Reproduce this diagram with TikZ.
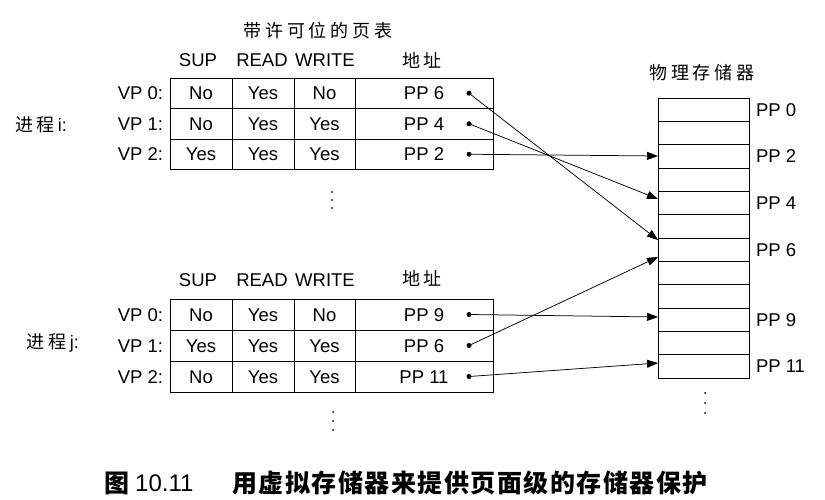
\documentclass[tikz,border=0pt]{standalone}
\usepackage{fontspec}
\setmainfont{Liberation Sans}
\newfontfamily\cjk[LetterSpace=22]{Noto Sans CJK SC}
\newfontfamily\cjkcap[LetterSpace=6]{Noto Sans CJK SC}
\usetikzlibrary{arrows.meta}
\begin{document}
\begin{tikzpicture}[x=1pt,y=-1pt,
  lab/.style={font=\fontsize{18.5}{20}\selectfont, inner sep=0pt, outer sep=0pt, text height=13pt, text depth=0pt},
  zh/.style={font=\fontsize{18}{20}\selectfont\cjk, inner sep=0pt, outer sep=0pt},
  cell/.style={lab, draw, line width=0.9pt, anchor=north west},
  memrow/.style={draw, line width=0.9pt, anchor=north west, inner sep=0pt, outer sep=0pt, minimum width=91pt, minimum height=23.333pt},
  pdot/.style={circle, fill, inner sep=0pt, minimum size=5pt},
  edot/.style={circle, fill, inner sep=0pt, minimum size=2pt},
  link/.style={line width=0.75pt, -{Triangle[length=11pt,width=8pt]}}]
\useasboundingbox (0,0) rectangle (825,500);

% ---------- titles ----------
\node[zh] (title) at (318,31) {带许可位的页表};
\node[zh] (memtitle) at (702,73) {物理存储器};

% ---------- process i ----------
\node[zh, anchor=west] (pi) at (15,125) {进程\,{\fontspec{Liberation Sans}i:}};
\node[lab] (hi1) at (198,60) {SUP};
\node[lab] (hi2) at (262,60) {READ};
\node[lab] (hi3) at (325,60) {WRITE};
\node[zh] (hi4) at (422,60) {地址};
\foreach \r/\y/\a/\b/\c/\d in {0/78/No/Yes/No/PP 6, 1/108.5/No/Yes/Yes/PP 4, 2/139/Yes/Yes/Yes/PP 2} {
  \node[cell, minimum width=62pt, minimum height=30.5pt] (ia\r) at (170,\y) {\a};
  \node[cell, minimum width=62pt, minimum height=30.5pt] (ib\r) at (232,\y) {\b};
  \node[cell, minimum width=61pt, minimum height=30.5pt] (ic\r) at (294,\y) {\c};
  \node[cell, minimum width=138pt, minimum height=30.5pt] (id\r) at (355,\y) {\d};
  \node[lab, anchor=east] (iv\r) at (163,\y+15.25) {VP \r:};
  \node[pdot] (ip\r) at (469,\y+15.25) {};
}
\node[edot] (ie1) at (332,192) {};
\node[edot] (ie2) at (332,200) {};
\node[edot] (ie3) at (332,208) {};

% ---------- process j ----------
\node[zh, anchor=west] (pj) at (27,343) {进程\,{\fontspec{Liberation Sans}j:}};
\node[lab] (hj1) at (198,280) {SUP};
\node[lab] (hj2) at (262,280) {READ};
\node[lab] (hj3) at (325,280) {WRITE};
\node[zh] (hj4) at (422,278) {地址};
\foreach \r/\y/\a/\b/\c/\d in {0/299/No/Yes/No/PP 9, 1/330/Yes/Yes/Yes/PP 6, 2/361/No/Yes/Yes/PP 11} {
  \node[cell, minimum width=62pt, minimum height=31pt] (ja\r) at (170,\y) {\a};
  \node[cell, minimum width=62pt, minimum height=31pt] (jb\r) at (232,\y) {\b};
  \node[cell, minimum width=61pt, minimum height=31pt] (jc\r) at (294,\y) {\c};
  \node[cell, minimum width=138pt, minimum height=31pt] (jd\r) at (355,\y) {\d};
  \node[lab, anchor=east] (jv\r) at (163,\y+15.5) {VP \r:};
  \node[pdot] (jp\r) at (469,\y+15.5) {};
}
\node[edot] (je1) at (333,412) {};
\node[edot] (je2) at (333,421) {};
\node[edot] (je3) at (333,430) {};

% ---------- physical memory ----------
\foreach \k in {0,...,11} {
  \node[memrow] (m\k) at (658,98+\k*23.333) {};
}
\foreach \k in {0,2,4,6,9,11} {
  \node[lab, anchor=west, xshift=7pt] (ml\k) at (m\k.east) {PP \k};
}
\node[edot] (me1) at (705,393) {};
\node[edot] (me2) at (705,403) {};
\node[edot] (me3) at (705,413) {};

% ---------- arrow targets ----------
\coordinate (t2) at (658,156);
\coordinate (t4) at (658,199);
\coordinate (t6a) at (658,240);
\coordinate (t6b) at (658,257);
\coordinate (t9) at (658,317);
\coordinate (t11) at (658,363);

\draw[link] (ip0.center) -- (t6a);
\draw[link] (ip1.center) -- (t4);
\draw[link] (ip2.center) -- (t2);
\draw[link] (jp0.center) -- (t9);
\draw[link] (jp1.center) -- (t6b);
\draw[link] (jp2.center) -- (t11);

% ---------- caption ----------
\node[inner sep=0pt, anchor=west, font=\fontsize{25}{28}\selectfont\cjkcap\bfseries] (fig) at (104,483) {图};
\node[inner sep=0pt, anchor=west, font=\fontsize{24}{28}\selectfont] (fignum) at (135,483) {10.11};
\node[inner sep=0pt, anchor=west, font=\fontsize{25}{28}\selectfont\cjkcap\bfseries] (cap) at (232,483) {用虚拟存储器来提供页面级的存储器保护};
\end{tikzpicture}
\end{document}
